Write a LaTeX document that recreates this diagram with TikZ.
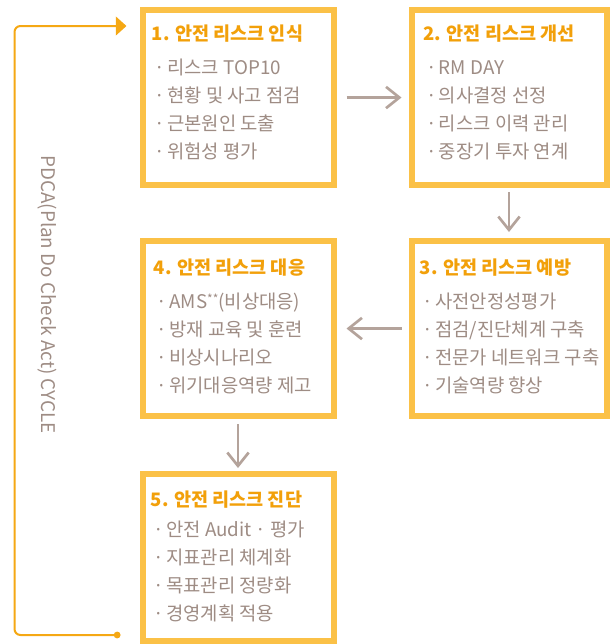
\documentclass[tikz,border=0pt]{standalone}
\usepackage{fontspec}
\setmainfont{Noto Sans CJK KR}
\usetikzlibrary{positioning,arrows.meta}

\definecolor{boxyellow}{RGB}{251,193,71}
\definecolor{titleorange}{RGB}{242,160,10}
\definecolor{itemgray}{RGB}{158,140,132}
\definecolor{arrowgray}{RGB}{180,163,155}
\definecolor{pdcaorange}{RGB}{245,168,20}

\newcommand{\stagetitle}[1]{{\fontsize{13.9pt}{21pt}\selectfont\bfseries\color{titleorange}#1}}
\newcommand{\itm}{\hspace{2.25pt}·\hspace{1.5pt}}

\begin{document}
\begin{tikzpicture}[
    x=0.75pt, y=-0.75pt,
    node distance=37.5pt and 54pt,
    stage/.style={rectangle, draw=boxyellow, line width=4.5pt, fill=white, inner sep=0pt},
    leftstage/.style={stage, minimum width=143.25pt, minimum height=131.25pt},
    rightstage/.style={stage, minimum width=146.25pt, minimum height=131.25pt},
    body/.style={anchor=north west, align=left, inner sep=0pt, text=itemgray, font=\fontsize{14.1pt}{21pt}\selectfont},
    flow/.style={-{Straight Barb[length=10pt,width=16pt]}, line width=2pt, draw=arrowgray},
    pdcaline/.style={{Circle[length=5pt]}-{Triangle[length=8pt,width=14pt]}, line width=1.5pt, draw=pdcaorange, rounded corners=4.5pt}
]
\useasboundingbox (0,0) rectangle (610,644);

% the five stages
\node[leftstage] (b1) at (238,97.5) {};
\node[rightstage, right=of b1] (b2) {};
\node[rightstage, below=of b2] (b3) {};
\node[leftstage, left=of b3] (b4) {};
\node[leftstage, minimum height=125.25pt, below=39pt of b4] (b5) {};

\node[body] (t1) at ([xshift=9pt, yshift=-13.5pt]b1.north west) {\stagetitle{1. 안전 리스크 인식}\\[4.5pt]\itm 리스크 TOP10\\\itm 현황 및 사고 점검\\\itm 근본원인 도출\\\itm 위험성 평가};
\node[body] (t2) at ([xshift=11pt, yshift=-13.5pt]b2.north west) {\stagetitle{2. 안전 리스크 개선}\\[4.5pt]\itm RM DAY\\\itm 의사결정 선정\\\itm 리스크 이력 관리\\\itm 중장기 투자 연계};
\node[body] (t3) at ([xshift=8.25pt, yshift=-15.75pt]b3.north west) {\stagetitle{3. 안전 리스크 예방}\\[4.5pt]\itm 사전안정성평가\\\itm 점검/진단체계 구축\\\itm 전문가 네트워크 구축\\\itm 기술역량 향상};
\node[body] (t4) at ([xshift=10.5pt, yshift=-15.75pt]b4.north west) {\stagetitle{4. 안전 리스크 대응}\\[4.5pt]\itm AMS\raisebox{0.3em}{\fontsize{9pt}{9pt}\selectfont **}(비상대응)\\\itm 방재 교육 및 훈련\\\itm 비상시나리오\\\itm 위기대응역량 제고};
\node[body] (t5) at ([xshift=8.25pt, yshift=-15pt]b5.north west) {\stagetitle{5. 안전 리스크 진단}\\[1.5pt]\itm 안전 Audit · 평가\\\itm 지표관리 체계화\\\itm 목표관리 정량화\\\itm 경영계획 적용};

% flow between stages
\draw[flow, shorten <=7.5pt, shorten >=5.25pt] (b1) -- (b2);
\draw[flow, shorten <=3pt, shorten >=4.5pt] (b2) -- (b3);
\draw[flow, shorten <=5.25pt, shorten >=7.5pt] (b3) -- (b4);
\draw[flow, shorten <=3.75pt, shorten >=2.25pt] (b4) -- (b5);

% PDCA loop
\coordinate (cycout) at ([xshift=-14.25pt, yshift=6.75pt]b5.south west);
\coordinate (cycin) at ([xshift=-9.75pt, yshift=-14.25pt]b1.north west);
\draw[pdcaline] (cycout) -- ++(-106,0) |- (cycin);
\node[rotate=-90, text=itemgray, font=\fontsize{14.1pt}{16pt}\selectfont] (pdca) at (47,294.5) {PDCA(Plan Do Check Act) CYCLE};
\end{tikzpicture}
\end{document}
